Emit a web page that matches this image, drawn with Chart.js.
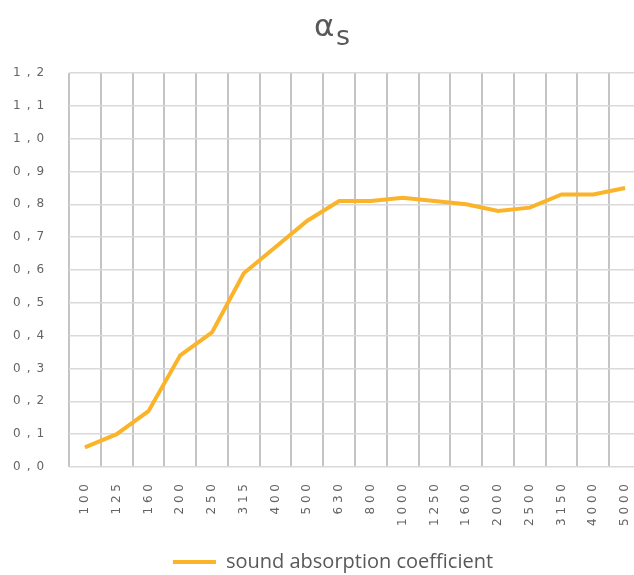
<!DOCTYPE html>
<html>
<head>
<meta charset="utf-8">
<script src="https://cdn.jsdelivr.net/npm/chart.js@4/dist/chart.umd.min.js"></script>
<style>
  html, body { margin: 0; padding: 0; overflow: hidden; background: #fff; }
  #wrap { width: 660px; height: 575px; }
</style>
</head>
<body>
<div id="wrap"><canvas id="line-chart" width="660" height="575"></canvas></div>
<script>
// frequencies (Hz)
var frequencies = ['100', '125', '160', '200', '250', '315', '400', '500', '630', '800',
                   '1000', '1250', '1600', '2000', '2500', '3150', '4000', '5000'];
// sound absorption coefficient
var alphaS = [0.06, 0.10, 0.17, 0.34, 0.41, 0.59, 0.67, 0.75, 0.81, 0.81,
              0.82, 0.81, 0.80, 0.78, 0.79, 0.83, 0.83, 0.85];
var yTickLabels = ['0,0', '0,1', '0,2', '0,3', '0,4', '0,5', '0,6',
                   '0,7', '0,8', '0,9', '1,0', '1,1', '1,2'];

var lineColor = '#FBB42A';
var textColor = '#646464';

// title "α" with subscript "s"
var titlePlugin = {
    id: 'alphaTitle',
    afterDraw: function (chart) {
        var ctx = chart.ctx;
        ctx.save();
        ctx.fillStyle = '#595959';
        ctx.textBaseline = 'alphabetic';
        ctx.textAlign = 'left';
        ctx.font = '31px "DejaVu Sans"';
        ctx.fillText('α', 314, 36);
        ctx.font = '27px "DejaVu Sans"';
        ctx.fillText('s', 336, 45);
        ctx.restore();
    }
};

new Chart(document.getElementById("line-chart"), {
    type: 'line',
    data: {
        labels: frequencies,
        datasets: [{
            label: 'sound absorption coefficient',
            data: alphaS,
            borderColor: lineColor,
            backgroundColor: lineColor,
            borderWidth: 4,
            pointRadius: 0,
            tension: 0
        }]
    },
    options: {
        responsive: false,
        animation: false,
        layout: { padding: { left: 25, right: 19, top: 73, bottom: -7 } },
        plugins: {
            title: { display: false },
            legend: {
                position: 'bottom',
                labels: {
                    color: '#595959',
                    font: { family: 'Open Sans', size: 20 },
                    boxWidth: 43,
                    boxHeight: 4,
                    padding: 4,
                    generateLabels: function (chart) {
                        return [{
                            text: 'sound absorption coefficient',
                            fillStyle: lineColor,
                            strokeStyle: lineColor,
                            lineWidth: 0,
                            fontColor: '#595959',
                            datasetIndex: 0
                        }];
                    }
                }
            },
            tooltip: { enabled: false }
        },
        scales: {
            x: {
                offset: true,
                grid: { offset: true, color: '#C4C4C4', lineWidth: 2, drawTicks: false },
                border: { display: false },
                afterFit: function (scale) { scale.height = 81; },
                ticks: {
                    color: textColor,
                    font: { family: 'DejaVu Sans', size: 12 },
                    minRotation: 90,
                    maxRotation: 90,
                    padding: 17,
                    autoSkip: false,
                    callback: function (v, i) { return frequencies[i].split('').join(' '); }
                }
            },
            y: {
                min: 0,
                max: 1.2,
                grid: { color: '#D9D9D9', lineWidth: 1.5, drawTicks: false },
                border: { display: false },
                afterFit: function (scale) { scale.width = 44; },
                ticks: {
                    stepSize: 0.1,
                    color: textColor,
                    font: { family: 'DejaVu Sans', size: 12 },
                    // labels are left-aligned at x = 13, left of the axis box
                    mirror: true,
                    padding: -56,
                    callback: function (v, i) { return yTickLabels[i].split('').join('\u2002'); }
                }
            }
        }
    },
    plugins: [titlePlugin]
});
</script>
</body>
</html>
